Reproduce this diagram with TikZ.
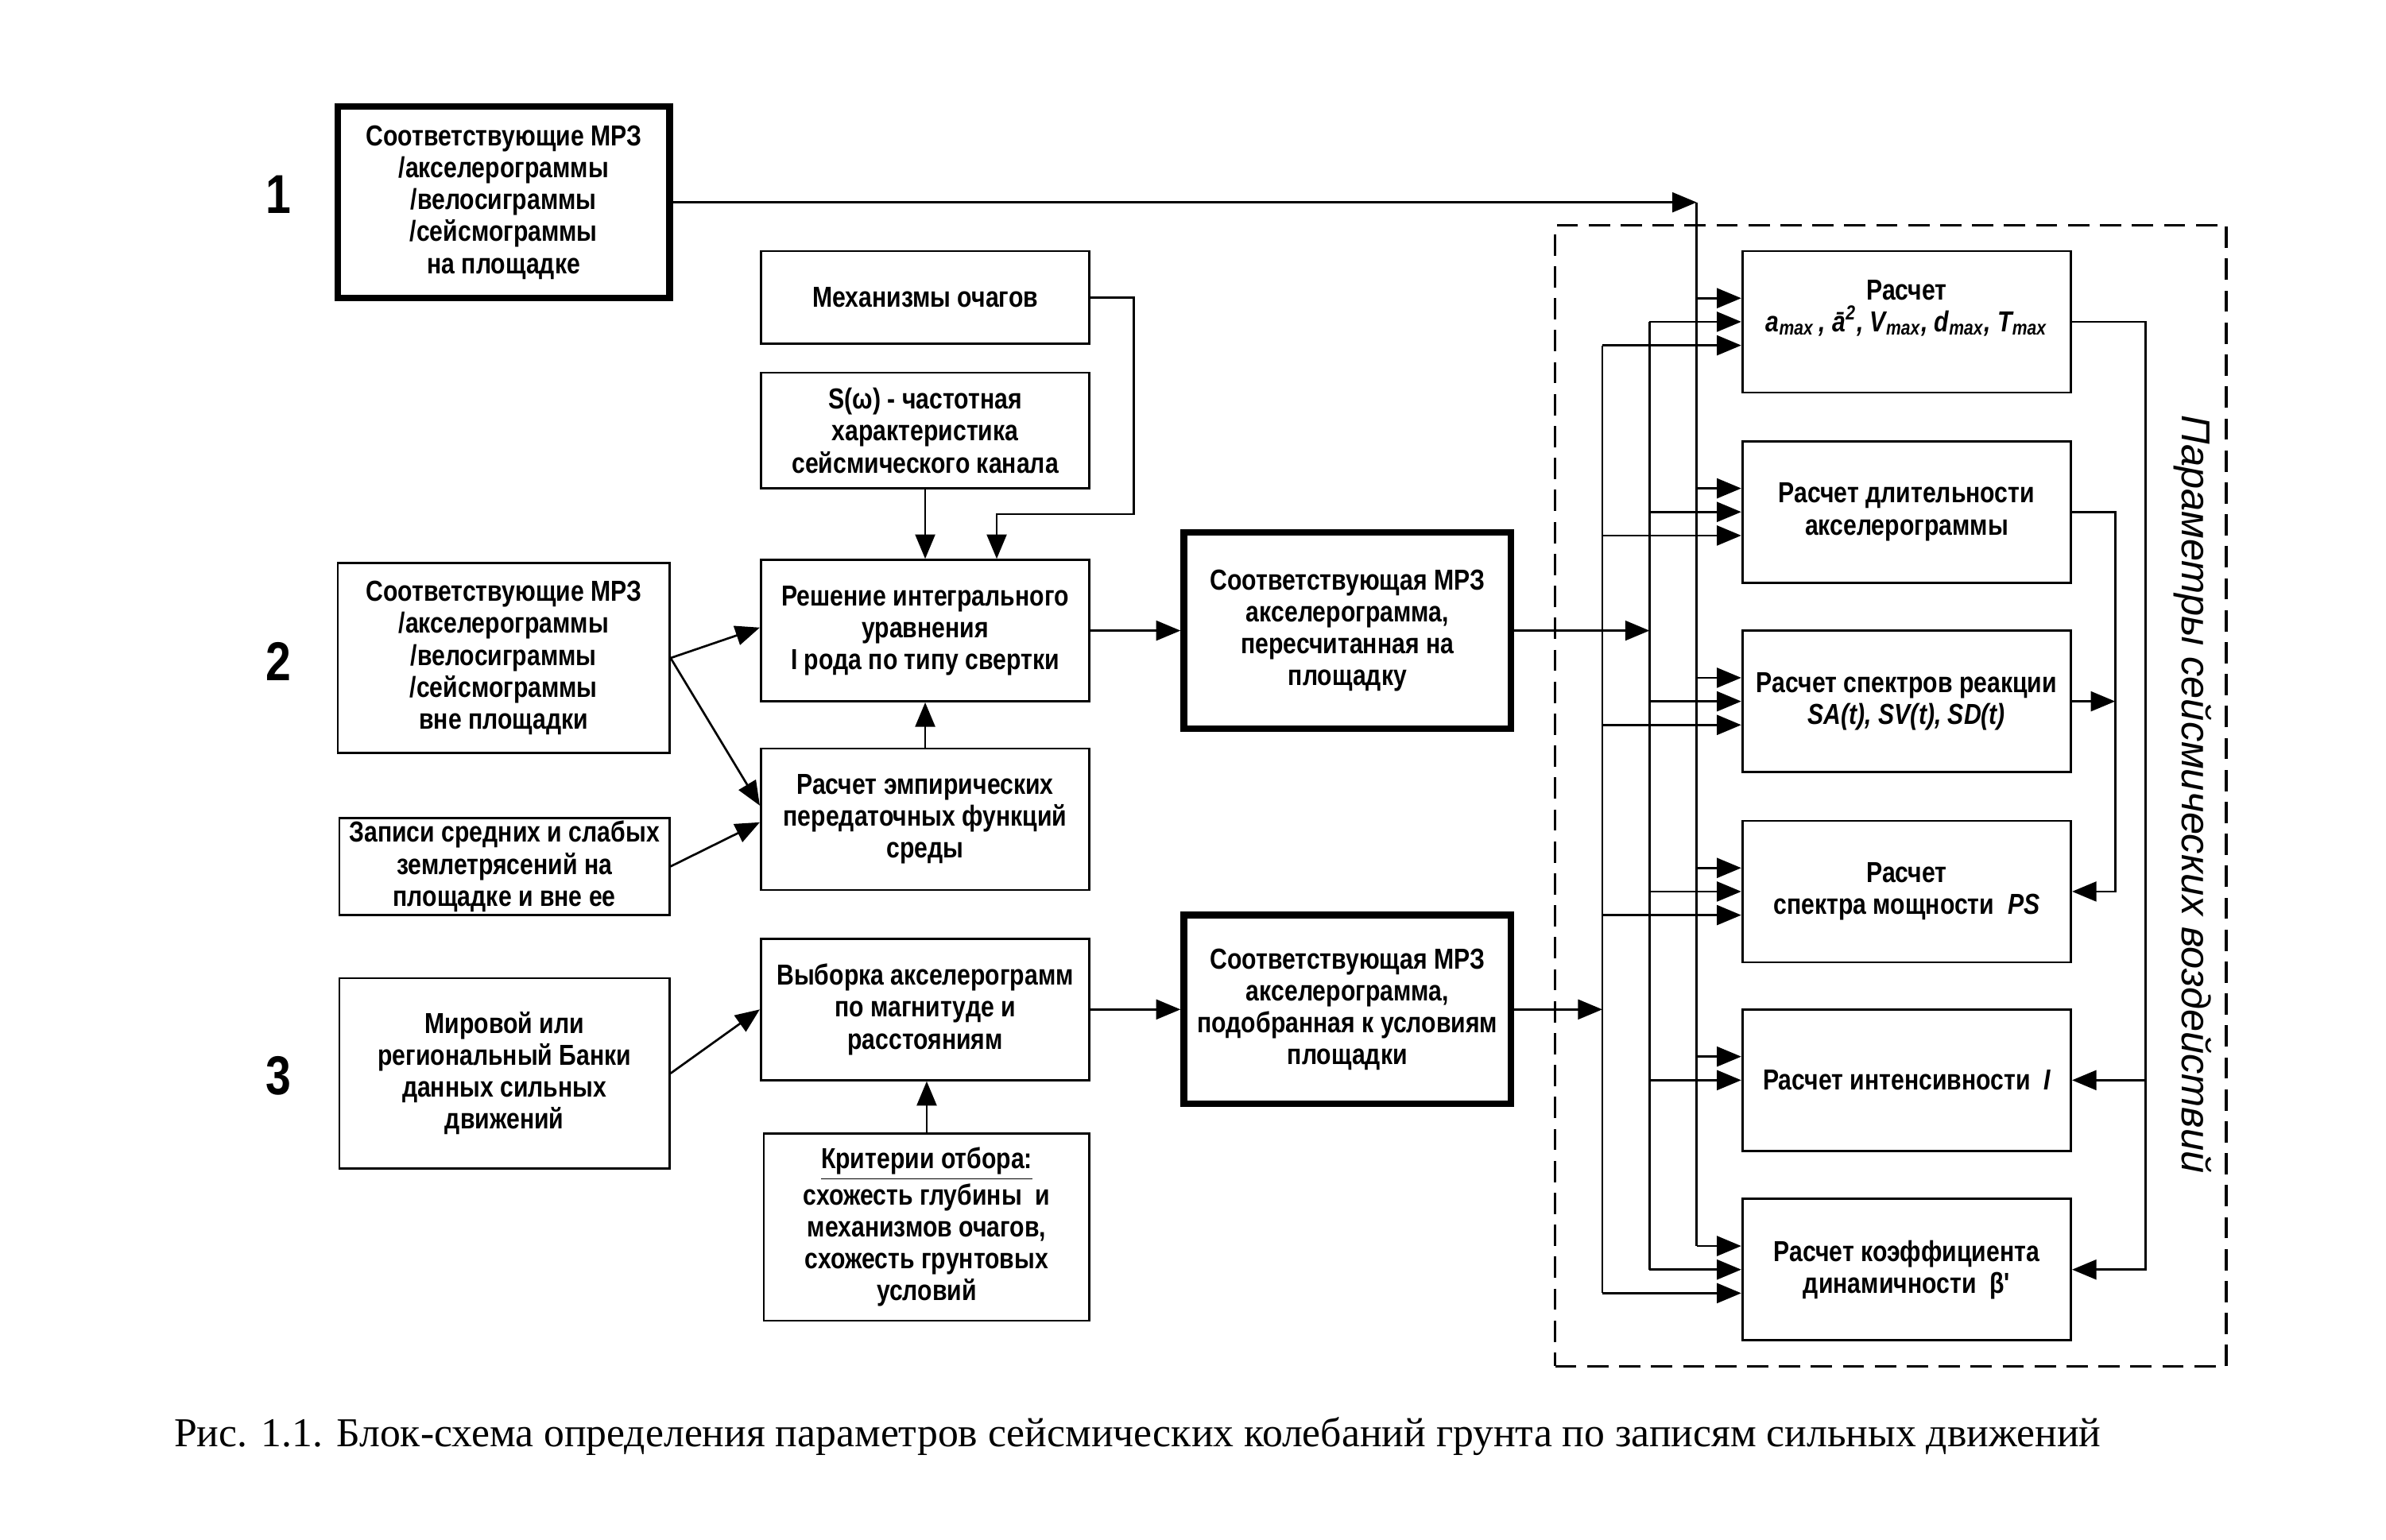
\documentclass[tikz,border=0pt]{standalone}
\usepackage{fontspec}
\setmainfont{Liberation Sans}
\newfontfamily\boxfont[FakeStretch=0.83]{Liberation Sans}
\newfontfamily\capfont{Liberation Serif}
\usetikzlibrary{arrows.meta,calc}
\tikzset{
  blk/.style={draw, line width=0.7pt, align=center, inner sep=1pt,
    font=\boxfont\bfseries\fontsize{9.5}{10.5}\selectfont},
  thk/.style={blk, line width=2.2pt},
  sz/.style 2 args={minimum width={#1*0.5pt}, minimum height={#2*0.5pt}},
  conn/.style={line width=0.7pt},
  arr/.style={conn, -{Triangle[length=8pt,width=6.5pt]}},
  num/.style={font=\boxfont\bfseries\fontsize{18}{18}\selectfont},
  frame/.style={draw, line width=0.8pt, dash pattern=on 7pt off 3.5pt},
}
\begin{document}
\begin{tikzpicture}[x=0.5pt,y=-0.5pt]
\fill[white] (0,0) rectangle (1568,1012);
\useasboundingbox (0,0) rectangle (1568,1012);

% row labels
\node[num] (n1) at (183,128) {1};
\node[num] (n2) at (183,435) {2};
\node[num] (n3) at (183,707) {3};

% left column
\node[thk, sz={218}{126}] (b1) at (331,133) {Соответствующие МРЗ\\/акселерограммы\\/велосиграммы\\/сейсмограммы\\на площадке};
\node[blk, sz={218}{125}] (b2) at (331,432.5) {Соответствующие МРЗ\\/акселерограммы\\/велосиграммы\\/сейсмограммы\\вне площадки};
\node[blk, sz={217}{63}] (zap) at (331.5,569.5) {Записи средних и слабых\\землетрясений на\\площадке и вне ее};
\node[blk, sz={217}{125}] (mir) at (331.5,705.5) {Мировой или\\региональный Банки\\данных сильных\\движений};

% middle column
\node[blk, sz={216}{61}] (mech) at (608,195.5) {Механизмы очагов};
\node[blk, sz={216}{76}] (som) at (608,283) {S(ω) - частотная\\характеристика\\сейсмического канала};
\node[blk, sz={216}{93}] (resh) at (608,414.5) {Решение интегрального\\уравнения\\I рода по типу свертки};
\node[blk, sz={216}{93}] (emp) at (608,538.5) {Расчет эмпирических\\передаточных функций\\среды};
\node[blk, sz={216}{93}] (vyb) at (608,663.5) {Выборка акселерограмм\\по магнитуде и\\расстояниям};
\node[blk, sz={214}{123}] (krit) at (609,806.5) {\underline{Критерии отбора:}\\схожесть глубины~ и\\механизмов очагов,\\схожесть грунтовых\\условий};

% third column
\node[thk, sz={215}{129}] (mrz1) at (885.5,414.5) {Соответствующая МРЗ\\акселерограмма,\\пересчитанная на\\площадку};
\node[thk, sz={215}{124}] (mrz2) at (885.5,663.5) {Соответствующая МРЗ\\акселерограмма,\\подобранная к условиям\\площадки};

% frame
\node[frame, sz={441}{750}] (fr) at (1242.5,523) {};
\node[rotate=-90, font=\itshape\fontsize{13.2}{14}\selectfont] (vt) at (1441,522) {Параметры сейсмических воздействий};

% right column
\node[blk, sz={216}{93}] (r1) at (1253,211.5) {Расчет\\{\itshape a\textsubscript{max}\,, ā\textsuperscript{2}, V\textsubscript{max}, d\textsubscript{max}, T\textsubscript{max}}\\\mbox{}};
\node[blk, sz={216}{93}] (r2) at (1253,336.5) {Расчет длительности\\акселерограммы};
\node[blk, sz={216}{93}] (r3) at (1253,461) {Расчет спектров реакции\\{\itshape SA(t), SV(t), SD(t)}};
\node[blk, sz={216}{93}] (r4) at (1253,586) {Расчет\\спектра мощности~ {\itshape PS}};
\node[blk, sz={216}{93}] (r5) at (1253,710) {Расчет интенсивности~ {\itshape I}};
\node[blk, sz={216}{93}] (r6) at (1253,834.5) {Расчет коэффициента\\динамичности~ β'};

% caption
\node[font=\capfont\fontsize{13.5}{15}\selectfont] (cap) at (747.5,944) {Рис. 1.1. Блок-схема определения параметров сейсмических колебаний грунта по записям сильных движений};

% bus x positions
\coordinate (xA) at (1115,0);
\coordinate (xB) at (1084,0);
\coordinate (xC) at (1053,0);
\coordinate (xR) at (1390,0);
\coordinate (xRR) at (1410,0);

\foreach \r in {r1,r2,r3,r4,r5,r6}{
  \coordinate (\r A) at ($(\r.west)+(0,-15.5)$);
  \coordinate (\r B) at (\r.west);
  \coordinate (\r C) at ($(\r.west)+(0,15.5)$);
}

% middle connections
\coordinate (mk) at (745,338);
\coordinate (mt) at (655,338);
\draw[arr] (mech.east) -| (mk) -- (mt) -- (mt |- resh.north);
\draw[arr] (som.south) -- (resh.north);
\draw[arr] (emp.north) -- (resh.south);
\draw[arr] (krit.north) -- (krit.north |- vyb.south);
\draw[arr] (b2.east) -- ($(resh.west)+(0,-2)$);
\draw[arr] (b2.east) -- ($(emp.west)+(0,-9)$);
\draw[arr] (zap.east) -- ($(emp.west)+(0,2)$);
\draw[arr] (mir.east) -- (vyb.west);
\draw[arr] (resh.east) -- (resh.east -| mrz1.west);
\draw[arr] (vyb.east) -- (vyb.east -| mrz2.west);

% buses
\draw[arr] (b1.east) -- (b1.east -| xA);
\draw[conn] (b1.east -| xA) -- (r6A -| xA);
\draw[arr] (mrz1.east) -- (mrz1.east -| xB);
\draw[conn] (r1B -| xB) -- (r6B -| xB);
\draw[arr] (mrz2.east) -- (mrz2.east -| xC);
\draw[conn] (r1C -| xC) -- (r6C -| xC);
\foreach \r in {r1,r2,r3,r4,r5,r6}{
  \draw[arr] (\r A -| xA) -- (\r A);
  \draw[arr] (\r B -| xB) -- (\r B);
}
\foreach \r in {r1,r2,r3,r4,r6}{
  \draw[arr] (\r C -| xC) -- (\r C);
}

% right feedback
\draw[arr] (r1.east) -| (xRR |- r6.east) -- (r6.east);
\draw[arr] (xRR |- r5.east) -- (r5.east);
\draw[arr] (r2.east) -| (xR |- r4.east) -- (r4.east);
\draw[arr] (r3.east) -- (r3.east -| xR);
\end{tikzpicture}
\end{document}
